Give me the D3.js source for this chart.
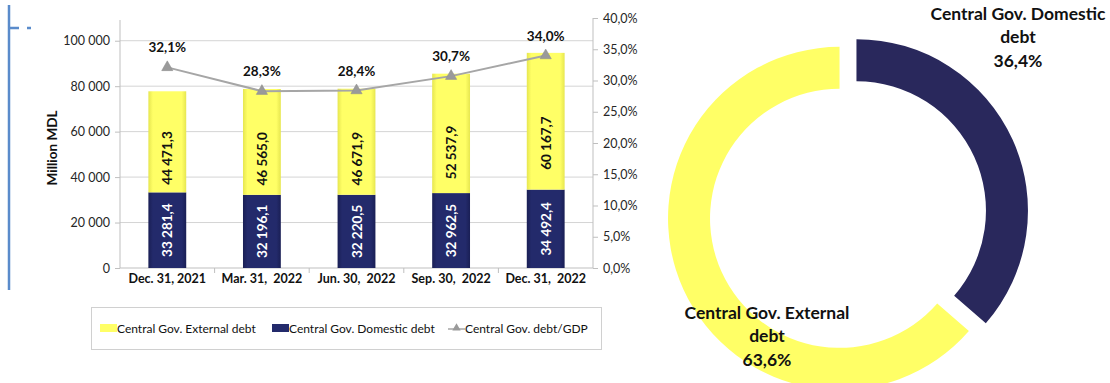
<!DOCTYPE html>
<html>
<head>
<meta charset="utf-8">
<script src="https://cdn.jsdelivr.net/npm/d3@7"></script>
<style>
  html, body { margin: 0; padding: 0; background: #ffffff; }
  svg { display: block; font-family: Lato, "Open Sans", sans-serif; }
</style>
</head>
<body>
<svg id="chart" width="1110" height="383"></svg>
<script>
// Central government debt, million MDL
const categories = ["Dec. 31, 2021", "Mar. 31,  2022", "Jun. 30,  2022", "Sep. 30,  2022", "Dec. 31,  2022"];
const externalDebt = [44471.3, 46565.0, 46671.9, 52537.9, 60167.7];
const domesticDebt = [33281.4, 32196.1, 32220.5, 32962.5, 34492.4];
const debtToGdp = [32.1, 28.3, 28.4, 30.7, 34.0];

// Structure at end of period, %
const structureNames = ["Central Gov. Domestic debt", "Central Gov. External debt"];
const structureValues = [36.4, 63.6];

const leftTicks = [0, 20000, 40000, 60000, 80000, 100000];
const rightTicks = [0, 5, 10, 15, 20, 25, 30, 35, 40];

const legendLabels = ["Central Gov. External debt", "Central Gov. Domestic debt", "Central Gov. debt/GDP"];

const YELLOW = "#ffff66";
const NAVY = "#232a6b";
const NAVY_RING = "#29285c";
const GREY_LINE = "#a6a6a6";

const loc = d3.formatLocale({ decimal: ",", thousands: "\u00a0", grouping: [3], currency: ["", ""] });
const fmtThousands = loc.format(",.0f");
const fmtValue = loc.format(",.1f");
const fmtPct = v => loc.format(".1f")(v) + "%";

const svg = d3.select("#chart");

// gradients for the bars
const defs = svg.append("defs");
function barGradient(id, edge, mid) {
  const g = defs.append("linearGradient").attr("id", id).attr("x1", "0%").attr("x2", "100%");
  g.append("stop").attr("offset", "0%").attr("stop-color", edge);
  g.append("stop").attr("offset", "12%").attr("stop-color", mid);
  g.append("stop").attr("offset", "88%").attr("stop-color", mid);
  g.append("stop").attr("offset", "100%").attr("stop-color", edge);
}
barGradient("gYellow", "#e6e650", YELLOW);
barGradient("gNavy", "#1a1f55", NAVY);

// slide frame mark on the left
svg.append("line").attr("x1", 9).attr("x2", 9).attr("y1", 5).attr("y2", 290)
  .attr("stroke", "#5a8bcb").attr("stroke-width", 2.5);
svg.append("line").attr("x1", 10).attr("x2", 32).attr("y1", 28).attr("y2", 28)
  .attr("stroke", "#5a8bcb").attr("stroke-width", 2.5).attr("stroke-dasharray", "9 8 4 40");

// ---------- combo chart ----------
const plot = { left: 120, right: 593, top: 18, bottom: 268 };

const x = d3.scaleBand().domain(categories).range([plot.left, plot.right]).paddingInner(0.6).paddingOuter(0.3);
const xBand = d3.scaleBand().domain(categories).range([plot.left, plot.right]);
const yL = d3.scaleLinear().domain([0, 110000]).range([plot.bottom, plot.top]);
const yR = d3.scaleLinear().domain([0, 40]).range([plot.bottom, plot.top]);

// gridlines
svg.append("g").selectAll("line").data(leftTicks.filter(d => d > 0)).join("line")
  .attr("x1", plot.left).attr("x2", plot.right)
  .attr("y1", d => yL(d)).attr("y2", d => yL(d))
  .attr("stroke", "#d4d4d4").attr("stroke-width", 1);

// left axis
const axL = svg.append("g").attr("transform", `translate(${plot.left},0)`)
  .call(d3.axisLeft(yL).tickValues(leftTicks).tickFormat(fmtThousands).tickSize(5).tickPadding(5));
axL.select(".domain").attr("stroke", "#bfbfbf").attr("d", `M-0,${plot.bottom}V${plot.top + 2}`);
axL.selectAll(".tick line").attr("stroke", "#bfbfbf");
axL.selectAll("text").attr("font-size", 12.5).attr("fill", "#262626").attr("font-family", "Lato, sans-serif");

// right axis
const axR = svg.append("g").attr("transform", `translate(${plot.right},0)`)
  .call(d3.axisRight(yR).tickValues(rightTicks).tickFormat(fmtPct).tickSize(5).tickPadding(5));
axR.select(".domain").attr("stroke", "#bfbfbf").attr("d", `M0,${plot.bottom}V${plot.top}`);
axR.selectAll(".tick line").attr("stroke", "#bfbfbf");
axR.selectAll("text").attr("font-size", 12.5).attr("fill", "#262626").attr("font-family", "Lato, sans-serif");

// bottom axis: separators between categories
const axB = svg.append("g").attr("transform", `translate(0,${plot.bottom})`);
axB.append("line").attr("x1", plot.left).attr("x2", plot.right).attr("stroke", "#bfbfbf");
axB.selectAll("line.sep").data(categories.slice(1)).join("line").attr("class", "sep")
  .attr("x1", d => xBand(d)).attr("x2", d => xBand(d)).attr("y1", 0).attr("y2", 5)
  .attr("stroke", "#bfbfbf");
axB.selectAll("text").data(categories).join("text")
  .attr("x", d => xBand(d) + xBand.bandwidth() / 2).attr("y", 14.5)
  .attr("text-anchor", "middle").attr("font-size", 12.5).attr("font-weight", "bold")
  .attr("fill", "#111").style("white-space", "pre").text(d => d);

// axis title
svg.append("text").attr("transform", `translate(57,148) rotate(-90)`)
  .attr("text-anchor", "middle").attr("font-size", 13.5).attr("font-weight", "bold")
  .attr("fill", "#111").text("Million MDL");

// stacked bars
const bars = svg.append("g");
categories.forEach((c, i) => {
  const d0 = domesticDebt[i], e0 = externalDebt[i];
  bars.append("rect").attr("x", x(c)).attr("width", x.bandwidth())
    .attr("y", yL(d0)).attr("height", yL(0) - yL(d0)).attr("fill", "url(#gNavy)");
  bars.append("rect").attr("x", x(c)).attr("width", x.bandwidth())
    .attr("y", yL(d0 + e0)).attr("height", yL(d0) - yL(d0 + e0)).attr("fill", "url(#gYellow)");
  const cx = x(c) + x.bandwidth() / 2;
  const yDom = (yL(0) + yL(d0)) / 2;
  const yExt = yL(d0) - (yL(d0) - yL(d0 + e0)) * 0.34;
  bars.append("text").attr("transform", `translate(${cx + 5},${yDom}) rotate(-90)`)
    .attr("text-anchor", "middle").attr("font-size", 13.5).attr("font-weight", "bold")
    .attr("fill", "#ffffff").text(fmtValue(d0));
  bars.append("text").attr("transform", `translate(${cx + 5},${yExt}) rotate(-90)`)
    .attr("text-anchor", "middle").attr("font-size", 13.5).attr("font-weight", "bold")
    .attr("fill", "#111").text(fmtValue(e0));
});

// debt/GDP line
const lineData = categories.map((c, i) => ({ c, v: debtToGdp[i] }));
const px = d => xBand(d.c) + xBand.bandwidth() / 2;
svg.append("path").datum(lineData)
  .attr("d", d3.line().x(px).y(d => yR(d.v)))
  .attr("fill", "none").attr("stroke", GREY_LINE).attr("stroke-width", 2);
const tri = d3.symbol().type(d3.symbolTriangle).size(55);
svg.append("g").selectAll("path").data(lineData).join("path")
  .attr("transform", d => `translate(${px(d)},${yR(d.v)})`)
  .attr("d", tri).attr("fill", "#9a9a9a").attr("stroke", "#8c8c8c").attr("stroke-width", 0.5);
svg.append("g").selectAll("text").data(lineData).join("text")
  .attr("x", px).attr("y", d => yR(d.v) - 15)
  .attr("text-anchor", "middle").attr("font-size", 13.5).attr("font-weight", "bold")
  .attr("fill", "#111").text(d => fmtPct(d.v));

// legend
const lg = svg.append("g");
lg.append("rect").attr("x", 91.5).attr("y", 307.5).attr("width", 510).attr("height", 42)
  .attr("fill", "#ffffff").attr("stroke", "#d0d0d0");
const legendX = [100, 272, 448];
lg.append("rect").attr("x", legendX[0]).attr("y", 324).attr("width", 17).attr("height", 8).attr("fill", YELLOW);
lg.append("rect").attr("x", legendX[1]).attr("y", 324).attr("width", 17).attr("height", 8).attr("fill", NAVY);
lg.append("line").attr("x1", legendX[2]).attr("x2", legendX[2] + 17).attr("y1", 329).attr("y2", 329)
  .attr("stroke", GREY_LINE).attr("stroke-width", 1.5);
lg.append("path").attr("transform", `translate(${legendX[2] + 8.5},328)`)
  .attr("d", d3.symbol().type(d3.symbolTriangle).size(30)).attr("fill", "#9a9a9a");
lg.selectAll("text").data(legendLabels).join("text")
  .attr("x", (d, i) => legendX[i] + 17).attr("y", 333)
  .attr("font-size", 12).attr("fill", "#111").text(d => d);

// ---------- structure donut ----------
const donut = { cx: 848, cy: 214.5, outer: 171.5, inner: 129.5, explode: 9.3 };
const pie = d3.pie().sort(null).value(d => d);
const arcs = pie(structureValues);
const arc = d3.arc().innerRadius(donut.inner).outerRadius(donut.outer);
const ringColors = [NAVY_RING, YELLOW];
svg.append("g").attr("transform", `translate(${donut.cx},${donut.cy})`)
  .selectAll("path").data(arcs).join("path")
  .attr("transform", d => {
    const a = (d.startAngle + d.endAngle) / 2;
    return `translate(${Math.sin(a) * donut.explode},${-Math.cos(a) * donut.explode})`;
  })
  .attr("d", arc).attr("fill", (d, i) => ringColors[i]);

const donutLabels = [
  { x: 1018, y: [14, 37, 61], lines: ["Central Gov. Domestic", "debt", fmtPct(structureValues[0])] },
  { x: 767, y: [313, 336, 360], lines: ["Central Gov. External", "debt", fmtPct(structureValues[1])] }
];
donutLabels.forEach(l => {
  l.lines.forEach((t, j) => {
    svg.append("text").attr("x", l.x).attr("y", l.y[j]).attr("dy", "0.35em")
      .attr("text-anchor", "middle").attr("font-size", 17.5).attr("font-weight", "bold")
      .attr("fill", "#111").text(t);
  });
});
</script>
</body>
</html>
